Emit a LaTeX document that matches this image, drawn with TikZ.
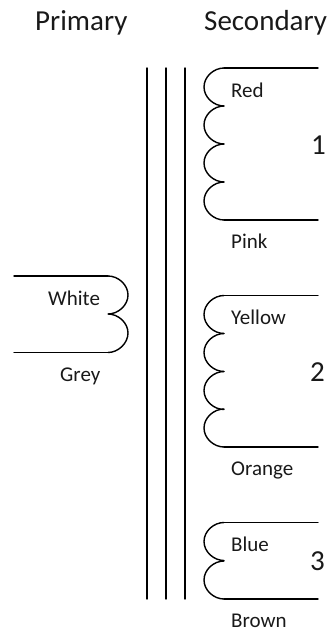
\documentclass[tikz,border=0pt]{standalone}
\usepackage{fontspec}
\setmainfont{Carlito}
\tikzset{
  wire/.style={line width=1.4bp,black,line cap=round,line join=round},
  head/.style={font=\fontsize{29bp}{33bp}\selectfont,inner sep=0pt,text=black!90,anchor=base west},
  lbl/.style={font=\fontsize{21bp}{25bp}\selectfont,inner sep=0pt,text=black!90,anchor=base west},
  num/.style={font=\fontsize{29bp}{33bp}\selectfont,inner sep=0pt,text=black!90,anchor=base west},
  lobeL/.pic={\draw[wire] (0,0) .. controls (-10,0) and (-20,8.5) .. (-20,19) .. controls (-20,29.5) and (-10,38) .. (0,38);}
}
\begin{document}
\begin{tikzpicture}[x=1bp,y=-1bp]
\useasboundingbox (0,0) rectangle (332,633);
% core
\foreach \n/\x in {a/147,b/166,c/185}{
  \coordinate (core\n t) at (\x,68);
  \coordinate (core\n b) at (\x,599);
  \draw[wire] (core\n t) -- (core\n b);
}
% primary
\coordinate (pa) at (14,276); \coordinate (pb) at (108,276);
\coordinate (pc) at (14,352.5); \coordinate (pd) at (108,352.5);
\draw[wire] (pa) -- (pb) (pc) -- (pd);
\draw[wire] (pb) .. controls (118,276) and (128,284.5) .. (128,295) .. controls (128,305.5) and (118,314) .. (108,314)
  .. controls (118,314) and (128,322.5) .. (128,333) .. controls (128,343.5) and (118,352.5) .. (pd);
% secondary coils
\newcommand{\coilwire}[3]{%
  \coordinate (#1s) at (318,#2); \coordinate (#1t) at (224,#2);
  \draw[wire] (#1s) -- (#1t);
  \coordinate (#1u) at (224,#3); \coordinate (#1e) at (318,#3);
  \draw[wire] (#1u) -- (#1e);
}
\coilwire{one}{68}{220}
\coilwire{two}{295.5}{447}
\coilwire{three}{522.5}{599}
\foreach \y in {68,106,144,182, 295.5,333.5,371.5,409, 522.5,561}{
  \pic at (224,\y) {lobeL};
}
% texts
\node[head] (prim) at (35,31) {Primary};
\node[head] (sec) at (204,31) {Secondary};
\node[lbl] (white) at (48,305.5) {White};
\node[lbl] (grey) at (60,381) {Grey};
\node[lbl] (red) at (231,97.5) {Red};
\node[lbl] (pink) at (231,248) {Pink};
\node[num] (n1) at (311,155) {1};
\node[lbl] (yellow) at (231,324) {Yellow};
\node[lbl] (orange) at (231,475) {Orange};
\node[num] (n2) at (310,381) {2};
\node[lbl] (blue) at (231,551.5) {Blue};
\node[lbl] (brown) at (231,627) {Brown};
\node[num] (n3) at (310,570) {3};
\end{tikzpicture}
\end{document}
